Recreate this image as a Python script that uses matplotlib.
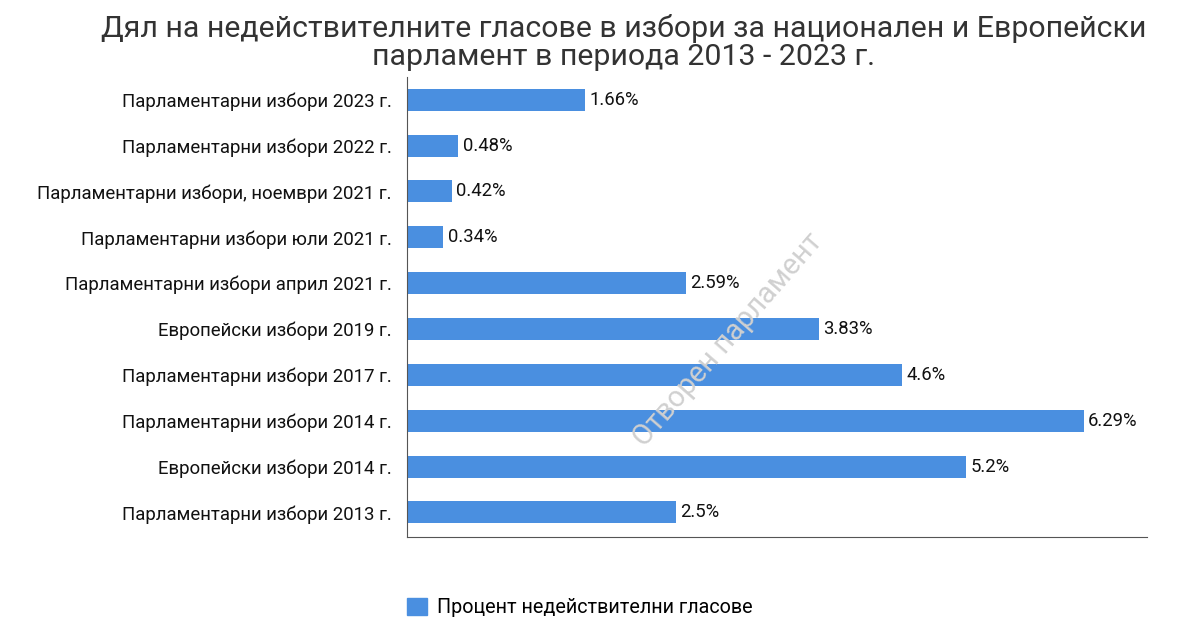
import matplotlib.pyplot as plt
from matplotlib.patches import Patch

plt.rcParams["font.family"] = ["Roboto", "DejaVu Sans"]

# data, bottom to top
categories = [
    "Парламентарни избори 2013 г.",
    "Европейски избори 2014 г.",
    "Парламентарни избори 2014 г.",
    "Парламентарни избори 2017 г.",
    "Европейски избори 2019 г.",
    "Парламентарни избори април 2021 г.",
    "Парламентарни избори юли 2021 г.",
    "Парламентарни избори, ноември 2021 г.",
    "Парламентарни избори 2022 г.",
    "Парламентарни избори 2023 г.",
]
values = [2.5, 5.2, 6.29, 4.6, 3.83, 2.59, 0.34, 0.42, 0.48, 1.66]
value_labels = ["2.5%", "5.2%", "6.29%", "4.6%", "3.83%", "2.59%", "0.34%", "0.42%", "0.48%", "1.66%"]

title = ("Дял на недействителните гласове в избори за национален и Европейски\n"
         "парламент в периода 2013 - 2023 г.")
series_name = "Процент недействителни гласове"
watermark = "Отворен парламент"

BAR_COLOR = "#4a8fe0"

fig = plt.figure(figsize=(12, 6.3), dpi=100)
ax = fig.add_axes([0.339, 0.148, 0.617, 0.73])

pos = list(range(len(categories)))
ax.barh(pos, values, height=0.48, color=BAR_COLOR)
for p, v, lab in zip(pos, values, value_labels):
    ax.text(v + 0.04, p, lab, va="center", ha="left", fontsize=13.3, color="#111111")

ax.set_yticks(pos)
ax.set_yticklabels(categories, fontsize=13.4, color="#111111")
ax.tick_params(axis="y", length=0, pad=11)
ax.set_xticks([])
ax.set_xlim(0, 6.88)
ax.set_ylim(-0.53, 9.5)

for side in ("top", "right"):
    ax.spines[side].set_visible(False)
ax.spines["left"].set_color("#555555")
ax.spines["bottom"].set_color("#555555")

fig.text(0.52, 0.978, title, ha="center", va="top", fontsize=21.8,
         color="#333333", linespacing=1.0)

fig.text(0.607, 0.46, watermark, rotation=49, ha="center", va="center",
         fontsize=21, color="#d0d0d0")

fig.legend(handles=[Patch(color=BAR_COLOR)], labels=[series_name],
           loc="center", bbox_to_anchor=(0.483, 0.036), frameon=False,
           fontsize=14.2, handlelength=1.0, handleheight=1.0, handletextpad=0.5)

fig.savefig("out.png", dpi=100)
